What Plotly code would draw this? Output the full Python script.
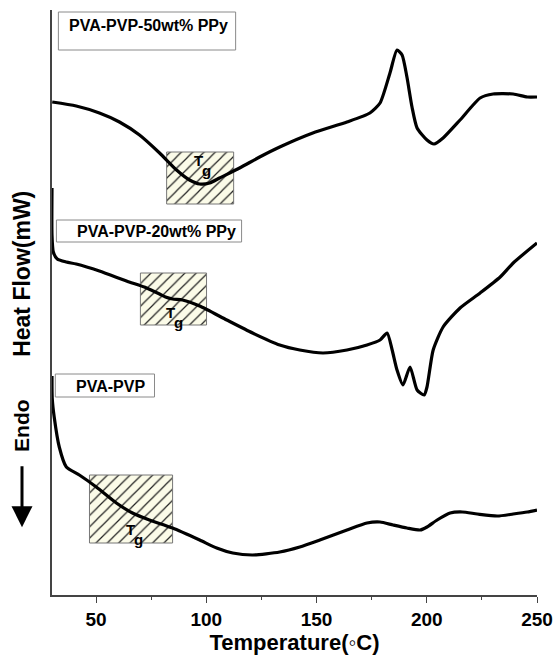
import plotly.graph_objects as go

# ---------------- data ----------------
# PVA-PVP-50wt% PPy
t_50 = [30.1, 41.0, 51.5, 60.6, 69.7, 78.8, 86.5, 92.4, 97.0, 101.5, 106.0, 115.1,
        124.2, 133.3, 148.3, 163.8, 174.2, 178.8, 183.3, 186.5, 188.8, 191.0, 193.3,
        195.6, 200.1, 203.3, 207.4, 215.1, 224.2, 230.1, 239.2, 245.6, 250.0]
hf_50 = [49.3, 48.9, 48.2, 47.3, 46.0, 44.2, 42.5, 41.5, 41.1, 41.2, 41.7, 42.7,
         43.8, 44.8, 46.2, 47.3, 48.2, 49.2, 52.2, 54.5, 54.0, 51.8, 48.8,
         46.7, 45.5, 45.1, 45.7, 47.5, 49.7, 50.1, 50.1, 49.8, 49.8]

# PVA-PVP-20wt% PPy
t_20 = [30.0, 30.0, 30.6, 32.4, 36.5, 41.0, 51.5, 63.8, 72.9, 78.8, 81.5, 84.7,
        89.2, 97.0, 109.3, 121.0, 133.3, 142.4, 152.9, 163.8, 172.9, 178.8, 182.0,
        184.3, 186.5, 189.2, 192.4, 195.6, 198.8, 200.1, 202.9, 207.4, 215.1,
        224.2, 233.3, 239.2, 250.0]
hf_20 = [40.7, 36.0, 34.3, 33.6, 33.3, 33.1, 32.4, 31.4, 30.7, 30.1, 29.8, 29.6,
         29.5, 28.9, 27.5, 26.2, 25.0, 24.5, 24.2, 24.5, 25.0, 25.5, 26.2,
         24.5, 22.5, 21.0, 22.8, 20.5, 20.0, 20.8, 24.5, 26.8, 28.7,
         30.2, 31.8, 33.2, 35.2]

# PVA-PVP
t_0 = [30.0, 30.1, 31.0, 33.3, 36.5, 42.4, 50.1, 59.2, 66.5, 74.2, 84.7, 97.0,
       104.7, 112.0, 121.0, 133.3, 142.4, 151.5, 163.8, 172.9, 178.8, 184.7,
       191.0, 197.0, 200.1, 204.7, 210.6, 216.1, 222.9, 232.0, 239.2, 245.6, 250.0]
hf_0 = [21.9, 19.7, 17.8, 14.8, 12.8, 12.0, 10.8, 9.2, 8.2, 7.5, 6.7, 5.5,
        4.7, 4.2, 4.0, 4.3, 4.8, 5.5, 6.5, 7.2, 7.3, 7.0,
        6.7, 6.5, 6.8, 7.5, 8.2, 8.3, 8.1, 7.9, 8.1, 8.3, 8.5]

# sample labels
labels = ["PVA-PVP-50wt% PPy", "PVA-PVP-20wt% PPy", "PVA-PVP"]
label_box_x0 = [32.9, 32.0, 31.5]
label_box_x1 = [113.3, 116.0, 76.5]
label_box_y0 = [54.5, 35.3, 19.8]
label_box_y1 = [58.3, 37.5, 22.1]
label_text_x = [73.6, 77.4, 56.5]
label_text_y = [57.0, 36.4, 20.9]

# glass-transition (Tg) regions
tg_x0 = [82.0, 70.1, 47.0]
tg_x1 = [112.4, 100.1, 84.7]
tg_y0 = [39.1, 27.0, 5.2]
tg_y1 = [44.3, 32.2, 12.0]
tg_text_x = [96.5, 83.8, 65.6]
tg_text_y = [43.5, 28.3, 6.6]

x_ticks = [50, 100, 150, 200, 250]

FONT = "Liberation Sans, Arial, sans-serif"

fig = go.Figure()

# hatched Tg boxes
for i in range(3):
    fig.add_trace(go.Scatter(
        x=[tg_x0[i], tg_x1[i], tg_x1[i], tg_x0[i], tg_x0[i]],
        y=[tg_y0[i], tg_y0[i], tg_y1[i], tg_y1[i], tg_y0[i]],
        mode="lines", fill="toself",
        fillcolor="#fbfbe8",
        fillpattern=dict(shape="/", fgcolor="#222222", bgcolor="#fbfbe8",
                         fgopacity=1, size=8, solidity=0.15),
        line=dict(color="#777777", width=1),
        hoverinfo="skip", showlegend=False))

# curves
for xs, ys in [(t_50, hf_50), (t_20, hf_20), (t_0, hf_0)]:
    fig.add_trace(go.Scatter(
        x=xs, y=ys, mode="lines",
        line=dict(color="black", width=3.2, shape="spline", smoothing=0.6),
        showlegend=False))

shapes = []
annotations = []
for i in range(3):
    shapes.append(dict(type="rect", xref="x", yref="y",
                       x0=label_box_x0[i], x1=label_box_x1[i],
                       y0=label_box_y0[i], y1=label_box_y1[i],
                       line=dict(color="#8a8a8a", width=1),
                       fillcolor="white", layer="above"))
    annotations.append(dict(x=label_text_x[i], y=label_text_y[i], xref="x", yref="y",
                            text=labels[i], showarrow=False,
                            font=dict(family=FONT, size=16, color="black", weight="bold")))
    annotations.append(dict(x=tg_text_x[i], y=tg_text_y[i], xref="x", yref="y",
                            text="T", showarrow=False, borderpad=0,
                            font=dict(family=FONT, size=15, color="black", weight="bold")))
    annotations.append(dict(x=tg_text_x[i], y=tg_text_y[i], xref="x", yref="y",
                            xshift=8, yshift=-10, borderpad=0,
                            text="g", showarrow=False,
                            font=dict(family=FONT, size=15, color="black", weight="bold")))

# y-axis title and Endo arrow
annotations.append(dict(x=0, y=0.549, xref="paper", yref="paper", xshift=-30,
                        xanchor="center", yanchor="middle",
                        text="Heat Flow(mW)", textangle=-90, showarrow=False,
                        font=dict(family=FONT, size=23, color="black", weight="bold")))
annotations.append(dict(x=0, y=0.289, xref="paper", yref="paper", xshift=-30,
                        xanchor="center", yanchor="middle",
                        text="Endo", textangle=-90, showarrow=False,
                        font=dict(family=FONT, size=21, color="black", weight="bold")))
annotations.append(dict(x=0, y=0.116, xref="paper", yref="paper", xshift=-30,
                        ax=0, ay=-71, text=" ", showarrow=True,
                        arrowhead=2, arrowsize=1.4, arrowwidth=3, arrowcolor="black"))

fig.update_layout(
    width=554, height=656,
    margin=dict(l=52, r=17, t=10, b=61),
    paper_bgcolor="white", plot_bgcolor="white",
    shapes=shapes, annotations=annotations,
    xaxis=dict(range=[30, 250], tickvals=x_ticks, ticks="outside", ticklen=6,
               tickwidth=1.2, tickcolor="#444444",
               minor=dict(dtick=25, tick0=0, ticks="outside", ticklen=3, tickcolor="#444444"),
               showline=True, linecolor="#444444", linewidth=1.5, showgrid=False,
               zeroline=False, automargin=False, ticklabeloverflow="allow",
               tickfont=dict(family=FONT, size=19, color="black", weight="bold"),
               title=dict(text="Temperature(◦C)", standoff=3,
                          font=dict(family=FONT, size=22, color="black", weight="bold"))),
    yaxis=dict(range=[0, 58.5], showline=True, linecolor="#444444", linewidth=1.5,
               showticklabels=False, ticks="", showgrid=False, zeroline=False,
               automargin=False),
)

fig.write_html("out.html",
               config={"displayModeBar": False},
               post_script="document.body.style.margin='0px';"
                           "document.body.style.overflow='hidden';")
